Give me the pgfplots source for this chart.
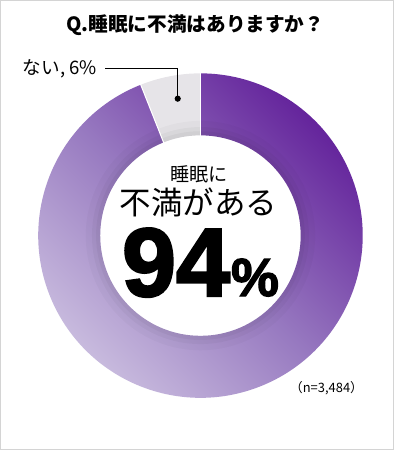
\documentclass[border=0pt]{standalone}
\usepackage{pgfplots}
\pgfplotsset{compat=1.18}
\usepackage{pgfplotstable}
\usepackage{fontspec}
\setmainfont{Noto Sans CJK JP}
\newfontfamily\numfont{Liberation Sans}[BoldFeatures={FakeBold=2.4}]
\definecolor{pdark}{HTML}{62209A}
\definecolor{pmid}{HTML}{9779C0}
\definecolor{plight}{HTML}{CFC4E2}
\definecolor{slicegray}{HTML}{E6E4E8}
\definecolor{framegray}{HTML}{D4D4D4}
\pgfplotstableread{
label value
yes 94
no 6
}\donutdata
\pgfplotstablegetelem{0}{value}\of\donutdata
\let\valyes\pgfplotsretval
\pgfplotstablegetelem{1}{value}\of\donutdata
\let\valno\pgfplotsretval
\begin{document}
\begin{tikzpicture}
\begin{axis}[hide axis, scale only axis, width=397pt, height=450pt,
  xmin=0, xmax=397, ymin=0, ymax=450, at={(0,0)}, anchor=south west, clip=false]
\pgfmathsetmacro\aB{90+3.6*\valno}
% frame
\draw[framegray, line width=1pt] (axis cs:7.5,8.5) rectangle (axis cs:388,443);
% purple slice
\shade[top color=pdark, bottom color=plight, middle color=pmid, shading angle=-45]
  (axis cs:201,215.5) ++(\aB:157pt) arc[start angle=\aB, end angle=450, radius=157pt]
  -- ++(270:60pt) arc[start angle=450, end angle=\aB, radius=97pt] -- cycle;
% gray slice
\fill[slicegray]
  (axis cs:201,215.5) ++(90:157pt) arc[start angle=90, end angle=\aB, radius=157pt]
  -- ++(\aB+180:60pt) arc[start angle=\aB, end angle=90, radius=97pt] -- cycle;
% soft inner shadow
\draw[black, opacity=0.025, line width=14pt] (axis cs:201,215.5) circle[radius=104pt];
\draw[black, opacity=0.03, line width=8pt] (axis cs:201,215.5) circle[radius=101pt];
\draw[black, opacity=0.035, line width=4pt] (axis cs:201,215.5) circle[radius=99pt];
% separators
\draw[white, line width=1pt] (axis cs:201,215.5) ++(90:96pt) -- ++(90:62pt);
\draw[white, line width=1pt] (axis cs:201,215.5) ++(\aB:96pt) -- ++(\aB:62pt);
% leader
\draw[black, line width=0.9pt] (axis cs:109,377) -- (axis cs:179,377) -- (axis cs:179,348);
\fill[black] (axis cs:179,348) circle[radius=3pt];
\node[anchor=east, inner sep=0pt, font=\fontsize{18}{20}\selectfont] at (axis cs:101,377) {ない, \valno\%};
% title
\node[inner sep=0pt, font=\bfseries\fontsize{19}{22}\selectfont] at (axis cs:196,419) {Q.睡眠に不満はありますか？};
% centre text
\node[inner sep=0pt, font=\fontsize{18.5}{20}\selectfont] at (axis cs:200,275) {睡眠に};
\node[inner sep=0pt, font=\fontsize{30.5}{32}\selectfont] at (axis cs:199,248) {不満がある};
\node[anchor=base, inner sep=0pt] at (axis cs:201,157) {\numfont\bfseries\fontsize{94}{94}\selectfont \valyes\kern1pt\fontsize{52}{52}\selectfont\%};
% n
\node[inner sep=0pt, font=\fontsize{12.5}{14}\selectfont] at (axis cs:323,68) {（n=3,484）};
\end{axis}
\end{tikzpicture}
\end{document}
